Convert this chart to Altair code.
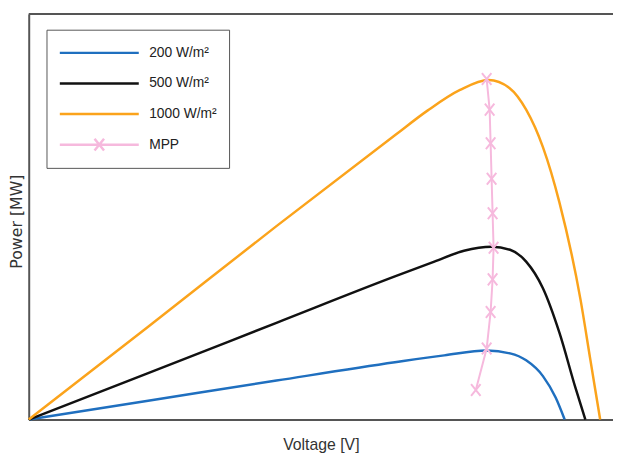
import altair as alt
import pandas as pd

# Series labels
series_names = ["200 W/m²", "500 W/m²", "1000 W/m²", "MPP"]
series_colors = ["#1f6fbf", "#111111", "#fba31b", "#f6b9dd"]
series_widths = [2.5, 2.5, 2.2, 2.0]

# P-V curves (voltage [V], power [MW])
blue_v = [0, 121, 251, 371, 421, 464, 487.7, 504, 521, 534, 543]
blue_p = [0, 0.19, 0.395, 0.58, 0.65, 0.70, 0.67, 0.60, 0.44, 0.22, 0]

black_v = [0, 121, 251, 371, 411, 441, 469, 487.7, 504, 521, 537.7, 554, 564]
black_p = [0, 0.47, 0.98, 1.45, 1.60, 1.71, 1.75, 1.72, 1.60, 1.33, 0.88, 0.32, 0]

orange_v = [0, 121, 251, 371, 404, 437, 466, 487, 504, 521, 537.7, 559, 569, 579]
orange_p = [0, 0.94, 1.96, 2.88, 3.13, 3.34, 3.44, 3.36, 3.14, 2.76, 2.20, 1.22, 0.61, 0]

# Maximum power points (1000 ... 100 W/m²)
mpp_v = [464, 467, 468, 469, 470, 471, 470, 468, 464, 453]
mpp_p = [3.45, 3.14, 2.80, 2.44, 2.09, 1.74, 1.42, 1.09, 0.72, 0.30]

x_domain = [0, 592]
y_domain = [0, 4.11]

rows = []
for name, vs, ps in [(series_names[0], blue_v, blue_p),
                     (series_names[1], black_v, black_p),
                     (series_names[2], orange_v, orange_p)]:
    for i, (v, p) in enumerate(zip(vs, ps)):
        rows.append({"series": name, "V": v, "P": p, "idx": i})
curves = pd.DataFrame(rows)
mpp = pd.DataFrame({"series": "MPP", "V": mpp_v, "P": mpp_p, "idx": range(len(mpp_v))})

W, H = 592, 411
FONT = "Liberation Sans"

line_path = "M-4,0H4"
mpp_path = "M-4,0H4M-0.48,-0.6L0.48,0.6M-0.48,0.6L0.48,-0.6"

x_enc = alt.X("V:Q", scale=alt.Scale(domain=x_domain, nice=False, zero=False),
              axis=alt.Axis(title="Voltage [V]", labels=False, ticks=False, grid=False,
                            domainColor="#555555", domainWidth=2,
                            titleFont=FONT, titleFontSize=16, titleFontWeight="normal",
                            titleColor="#333333", titlePadding=17))
y_enc = alt.Y("P:Q", scale=alt.Scale(domain=y_domain, nice=False),
              axis=alt.Axis(title="Power [MW]", labels=False, ticks=False, grid=False,
                            domainColor="#555555", domainWidth=2,
                            titleFont="DejaVu Sans", titleFontSize=16, titleFontWeight="normal",
                            titleColor="#333333", titleAngle=270, titleBaseline="middle",
                            titleAlign="center", titleX=-12, titleY=210))

color_scale = alt.Scale(domain=series_names, range=series_colors)
legend = alt.Legend(
    title=None, orient="none", legendX=18, legendY=16,
    symbolType=alt.ExprRef(expr=f"datum.label === 'MPP' ? '{mpp_path}' : '{line_path}'"),
    symbolSize=400, symbolStrokeWidth=2.5, symbolFillColor="transparent",
    symbolOffset=30,
    labelFont=FONT, labelFontSize=14, labelColor="#222222", labelOffset=39,
    padding=12, rowPadding=12, fillColor="white", strokeColor="#555555",
    labelLimit=200,
)

curve_layer = alt.Chart(curves).mark_line(interpolate="monotone").encode(
    x=x_enc, y=y_enc,
    color=alt.Color("series:N", scale=color_scale, legend=legend),
    strokeWidth=alt.StrokeWidth("series:N", scale=alt.Scale(domain=series_names, range=series_widths), legend=None),
    order="idx:Q",
)

mpp_line = alt.Chart(mpp).mark_line(strokeWidth=2).encode(
    x="V:Q", y="P:Q",
    color=alt.Color("series:N", scale=color_scale, legend=legend),
    order="idx:Q",
)

mpp_pts = alt.Chart(mpp).mark_point(
    shape="M-0.8,-1L0.8,1M-0.8,1L0.8,-1", size=144, filled=False,
    stroke="#f6b9dd", strokeWidth=2, opacity=1,
).encode(x="V:Q", y="P:Q")

top_border = alt.Chart(pd.DataFrame({"a": [0]})).mark_rule(color="#555555", strokeWidth=2).encode(
    x=alt.value(0), x2=alt.value(W), y=alt.value(0)
)

chart = alt.layer(curve_layer, mpp_line, mpp_pts, top_border).properties(
    width=W, height=H,
    autosize=alt.AutoSizeParams(type="none"),
    padding={"left": 21, "top": 3, "right": 0, "bottom": 37},
).configure_view(stroke=None).configure(background="white")

chart.save("out.html", embed_options={"renderer": "svg", "actions": False})
